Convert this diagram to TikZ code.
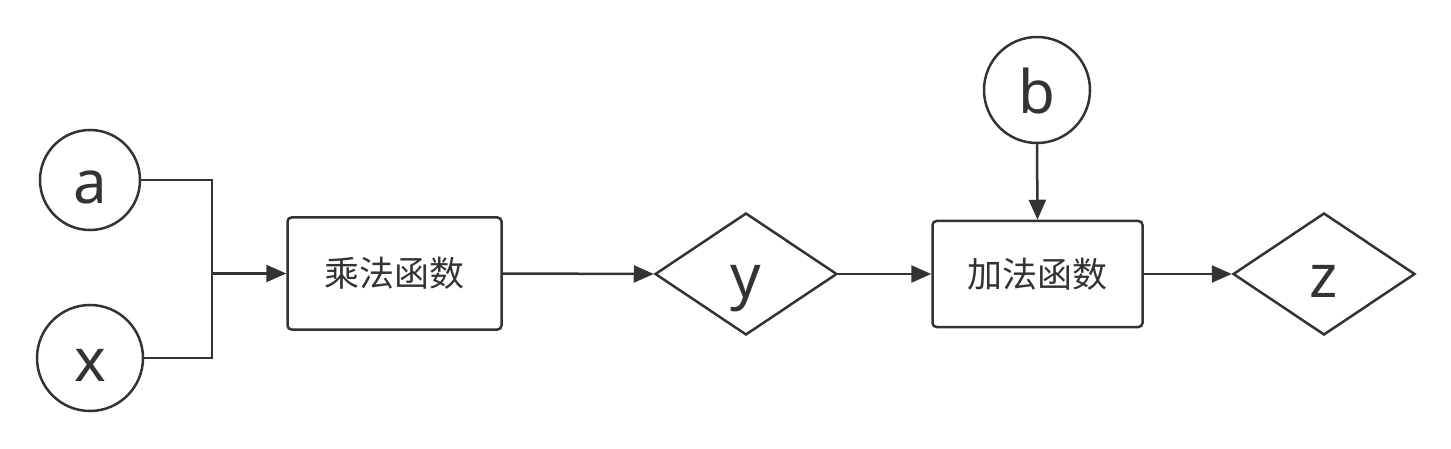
\documentclass[tikz,border=0pt]{standalone}
\usepackage{fontspec}
\setmainfont{Noto Sans}
\newfontfamily\cjk{Noto Sans CJK SC}
\usetikzlibrary{shapes.geometric,arrows.meta}
\definecolor{ink}{HTML}{333333}
\tikzset{
  every node/.style={text=ink},
  lin/.style={draw=ink, line width=2.5pt},
  var/.style={lin, circle, inner sep=0pt, text height=47pt, text depth=0pt, font=\fontsize{60}{72}\selectfont},
  func/.style={lin, rectangle, rounded corners=4pt, inner sep=0pt, minimum width=214pt, minimum height=112pt, font=\cjk\fontsize{35}{42}\selectfont},
  outv/.style={lin, diamond, inner sep=0pt, aspect=1.49, minimum width=182pt, minimum height=122pt, text height=47pt, text depth=0pt, font=\fontsize{60}{72}\selectfont},
  conn/.style={draw=ink, line width=2.5pt},
  arr/.style={conn, -{Triangle[length=20pt,width=17pt]}},
}
\begin{document}
\begin{tikzpicture}[x=1pt,y=-1pt]
\useasboundingbox (0,0) rectangle (1451,449);
\node[var, minimum size=100pt] (a) at (90,180) {a};
\node[var, minimum size=106pt] (x) at (90,358) {x};
\node[var, minimum size=106pt] (b) at (1037,90) {b};
\node[func] (m1) at (394.5,273.5) {乘法函数};
\node[func, minimum width=210pt, minimum height=106pt] (m2) at (1037.5,274) {加法函数};
\node[outv] (y) at (746,274) {y};
\node[outv] (z) at (1324,274) {z};
\coordinate (j) at (212,273.5);
\draw[conn] (a.east) -| (j);
\draw[conn] (x.east) -| (j);
\draw[arr] (j) -- (m1.west);
\draw[arr] (m1.east) -- (y.west);
\draw[arr] (y.east) -- (m2.west);
\draw[arr] (b.south) -- (m2.north);
\draw[arr] (m2.east) -- (z.west);
\end{tikzpicture}
\end{document}
